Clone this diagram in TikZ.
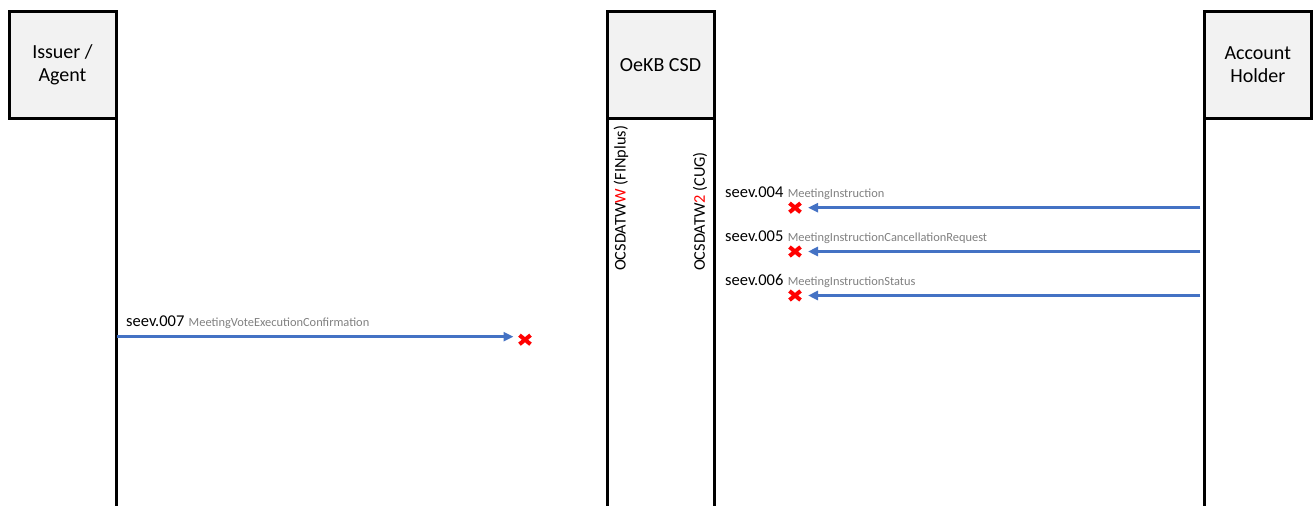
\documentclass[tikz,border=0pt]{standalone}
\usepackage{fontspec}
\setmainfont{Carlito}
\usetikzlibrary{positioning}
\usetikzlibrary{arrows.meta}
\usetikzlibrary{shapes.misc}
\definecolor{hdrgray}{HTML}{F2F2F2}
\definecolor{arrblue}{HTML}{4472C4}
\definecolor{msggray}{HTML}{808080}

\begin{document}
\begin{tikzpicture}[
    x=1pt, y=-1pt,
    hdr/.style={draw, line width=3pt, outer sep=0pt, fill=hdrgray, minimum width=107pt, minimum height=106.5pt, align=center, font=\fontsize{20}{23.5}\selectfont},
    life/.style={line width=3pt},
    msg-arr/.style={arrblue, line width=2.5pt, -{Triangle[length=10pt, width=9pt]}},
    seev/.style={anchor=base west, inner sep=0pt, font=\fontsize{16.5}{19}\selectfont},
    msg-name/.style={inner sep=0pt, text=msggray, font=\fontsize{12.4}{14}\selectfont},
    no-go/.style={cross out, draw=red, line width=4pt, outer sep=0pt, minimum width=11pt, minimum height=9pt, inner sep=0pt},
    bic/.style={rotate=90, anchor=west, inner sep=0pt, font=\fontsize{16.3}{19}\selectfont}
  ]

  \useasboundingbox (0,0) rectangle (1315,506);
  \coordinate (bottom) at (0,510);

  \node[hdr] (issuer) at (62.5,64.75) {Issuer /\\ Agent};
  \node[hdr] (csd) at (660.5,64.75) {OeKB CSD};
  \node[hdr] (holder) at (1257.8,64.75) {Account\\ Holder};

  \draw[life] (issuer.south east) -- (issuer.south east |- bottom);
  \draw[life] (csd.south west) -- (csd.south west |- bottom);
  \draw[life] (csd.south east) -- (csd.south east |- bottom);
  \draw[life] (holder.south west) -- (holder.south west |- bottom);

  \node[bic] (bic-fin) at (621,271) {OCSDATW\textcolor{red}{W} (FINplus)};
  \node[bic] (bic-cug) at (700,271) {OCSDATW\textcolor{red}{2} (CUG)};

  \foreach \num/\msg/\y in {004/MeetingInstruction/207.7, 005/MeetingInstructionCancellationRequest/251.5, 006/MeetingInstructionStatus/295.5} {
      \node[no-go] (x-\num) at (795,\y) {};
      \coordinate (from-\num) at (holder.south west |- x-\num);
      \draw[msg-arr, shorten <=4pt, shorten >=7.5pt] (from-\num) -- (x-\num.east);
      \node[seev] (seev-\num) at (725,\y-10.5) {seev.\num};
      \node[msg-name, right=4pt of seev-\num.base east, anchor=base west] {\msg};
    }

  \node[no-go] (x-007) at (525,339.7) {};
  \coordinate (from-007) at (issuer.south east |- x-007);
  \node[seev] (seev-007) at (126,326) {seev.007};
  \node[msg-name, right=4pt of seev-007.base east, anchor=base west] {MeetingVoteExecutionConfirmation};
  \draw[msg-arr, shorten <=1pt, shorten >=6pt] (from-007 |- 0,336.7) -- (x-007.west |- 0,336.7);

\end{tikzpicture}
\end{document}
